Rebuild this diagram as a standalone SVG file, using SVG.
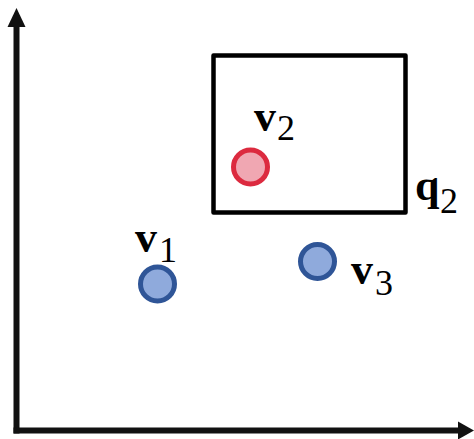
<svg xmlns="http://www.w3.org/2000/svg" width="474" height="439" viewBox="0 0 474 439">
<style>
.axis{stroke:#111;stroke-width:6;fill:none}
.head{fill:#111}
.box{fill:none;stroke:#000;stroke-width:4.5;stroke-linejoin:round}
.blue{fill:#8FAADC;stroke:#2F5597;stroke-width:5}
.red{fill:#F0A7B2;stroke:#DC2A3F;stroke-width:5}
.var{font-family:"Liberation Serif","DejaVu Serif",serif;font-weight:bold;font-size:44px;fill:#000}
.sub{font-family:"Liberation Serif","DejaVu Serif",serif;font-size:36px;fill:#000}
</style>
<g id="connectors">
<line class="axis" x1="16.5" y1="24" x2="16.5" y2="433.5"/>
<polygon class="head" points="16.5,8 7.5,27 25.5,27"/>
<line class="axis" x1="13.5" y1="430.5" x2="461" y2="430.5"/>
<polygon class="head" points="474,430.5 458,421.5 458,439.5"/>
</g>
<g id="q2">
<rect class="box" x="213.5" y="55.5" width="192" height="157"/>
<text class="var" x="415" y="200">q</text>
<text class="sub" x="440" y="213">2</text>
</g>
<g id="v2">
<circle class="red" cx="250.5" cy="167" r="17"/>
<text class="var" x="254" y="131">v</text>
<text class="sub" x="277" y="140">2</text>
</g>
<g id="v1">
<circle class="blue" cx="157.5" cy="284" r="17"/>
<text class="var" x="135" y="252">v</text>
<text class="sub" x="159" y="262">1</text>
</g>
<g id="v3">
<circle class="blue" cx="317.5" cy="261.5" r="17"/>
<text class="var" x="351" y="284">v</text>
<text class="sub" x="375" y="295">3</text>
</g>
</svg>
